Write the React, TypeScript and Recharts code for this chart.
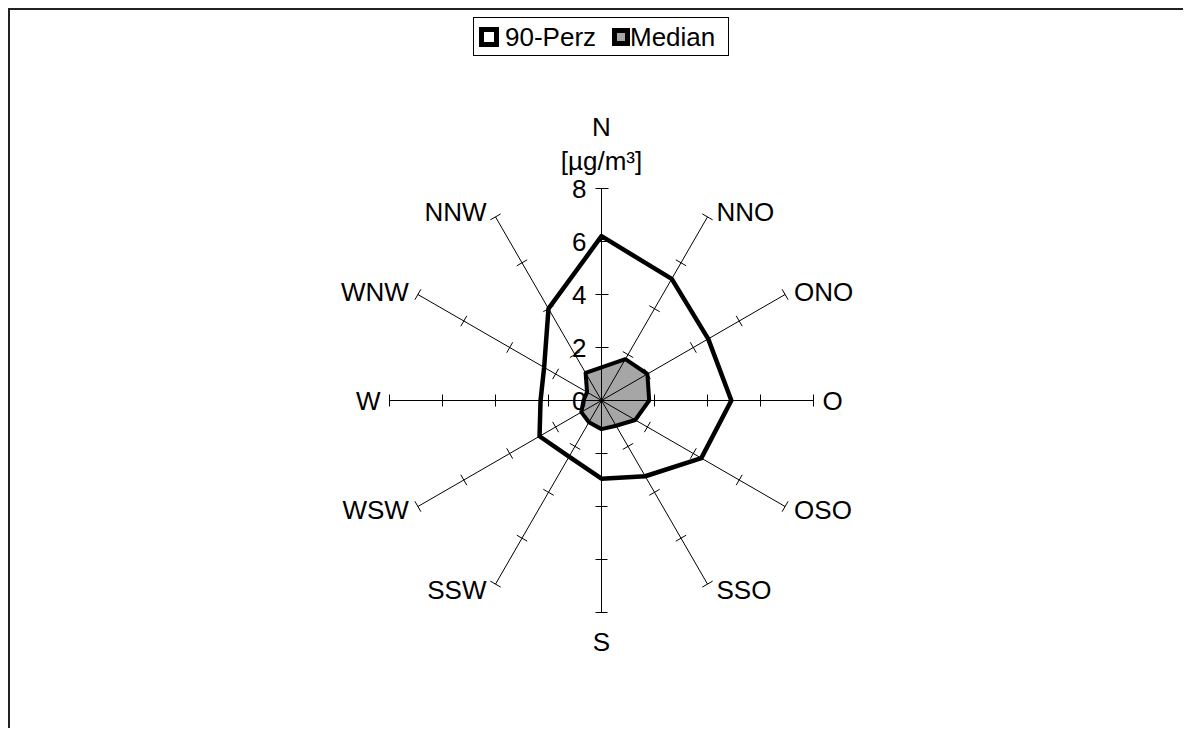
import React from 'react';
import { RadarChart, Radar, PolarAngleAxis, PolarRadiusAxis, PolarGrid, Legend } from 'recharts';

// wind sectors, clockwise from north
const directions = ['N', 'NNO', 'ONO', 'O', 'OSO', 'SSO', 'S', 'SSW', 'WSW', 'W', 'WNW', 'NNW'];
const perz90 = [6.2, 5.3, 4.65, 4.9, 4.35, 3.3, 2.95, 2.45, 2.7, 2.3, 2.5, 4.0];
const median = [1.25, 1.8, 2.0, 1.8, 1.47, 1.1, 1.08, 0.95, 0.88, 0.68, 0.63, 1.2];
const radiusTicks = [0, 2, 4, 6, 8];
const unitLabel = '[µg/m³]';

const data = directions.map((dir, i) => ({ dir, perz90: perz90[i], median: median[i] }));

const FONT = '"Liberation Sans", Arial, sans-serif';
const FONT_SIZE = 26;
const CX = 591.5;
const CY = 390.5;
const R = 212;
const DOMAIN_MAX = radiusTicks[radiusTicks.length - 1];

// value axis on the north spoke: cross ticks + labels
function NorthTick(props: any) {
  const { x, y, payload } = props;
  const v = payload.value;
  return (
    <g>
      {v > 0 && <line x1={x - 6} y1={y} x2={x + 7} y2={y} stroke="#000" strokeWidth={1} />}
      <text x={x - 15} y={y} dy="0.36em" textAnchor="end" fontFamily={FONT} fontSize={FONT_SIZE} fill="#000">
        {v}
      </text>
    </g>
  );
}

function DirectionTick(props: any) {
  const { x, y, payload, index } = props;
  const cx = props.cx ?? CX;
  const cy = props.cy ?? CY;
  const radius = props.radius ?? R;
  const dx = x - cx;
  const dy = y - cy;
  const len = Math.hypot(dx, dy) || 1;
  const ux = dx / len;
  const uy = dy / len;
  const ex = cx + ux * radius;
  const ey = cy + uy * radius;
  const common = { fontFamily: FONT, fontSize: FONT_SIZE, fill: '#000' };

  // cross ticks on the other spokes, same values as the north value axis
  const marks =
    index === 0
      ? null
      : radiusTicks
          .filter((v) => v > 0)
          .map((v) => {
            const r = (radius * v) / DOMAIN_MAX;
            const tx = cx + ux * r;
            const ty = cy + uy * r;
            return (
              <line key={v} x1={tx + 6 * uy} y1={ty - 6 * ux} x2={tx - 6 * uy} y2={ty + 6 * ux} stroke="#000" strokeWidth={1} />
            );
          });

  let label;
  if (Math.abs(ux) < 0.01) {
    label =
      uy < 0 ? (
        <g>
          <text x={ex} y={ey - 62} dy="0.36em" textAnchor="middle" {...common}>{payload.value}</text>
          <text x={ex} y={ey - 28} dy="0.36em" textAnchor="middle" {...common}>{unitLabel}</text>
        </g>
      ) : (
        <text x={ex} y={ey + 29} dy="0.36em" textAnchor="middle" {...common}>{payload.value}</text>
      );
  } else {
    const right = ux > 0;
    label = (
      <text x={right ? ex + 9 : ex - 9} y={ey + 6 * uy} dy="0.36em" textAnchor={right ? 'start' : 'end'} {...common}>
        {payload.value}
      </text>
    );
  }
  return (
    <g>
      {marks}
      {label}
    </g>
  );
}

function LegendBox(props: any) {
  const items = props.payload || [];
  const slots = [
    { mx: 6, my: 10, size: 20, inner: 10, tx: 32 },
    { mx: 139, my: 11, size: 18, inner: 8, tx: 157 },
  ];
  return (
    <svg width={256} height={39} style={{ display: 'block' }}>
      <rect x={0.5} y={0.5} width={255} height={38} fill="#fff" stroke="#000" />
      {items.map((entry: any, i: number) => {
        const s = slots[i] || slots[0];
        const off = (s.size - s.inner) / 2;
        return (
          <g key={entry.value}>
            <rect x={s.mx} y={s.my} width={s.size} height={s.size} fill="#000" />
            <rect x={s.mx + off} y={s.my + off} width={s.inner} height={s.inner} fill={entry.payload?.fill ?? '#fff'} />
            <text x={s.tx} y={29} fontFamily={FONT} fontSize={FONT_SIZE} fill="#000">{entry.value}</text>
          </g>
        );
      })}
    </svg>
  );
}

export default function App() {
  return (
    <div
      style={{
        width: 1181,
        height: 718,
        borderTop: '2px solid #222',
        borderLeft: '2px solid #222',
        position: 'relative',
        background: '#fff',
      }}
    >
      <RadarChart
        width={1173}
        height={716}
        data={data}
        cx={CX}
        cy={CY}
        outerRadius={R}
        startAngle={90}
        endAngle={-270}
        margin={{ top: 0, right: 0, bottom: 0, left: 0 }}
      >
        <Radar
          name="90-Perz"
          dataKey="perz90"
          stroke="#000"
          strokeWidth={4.5}
          strokeLinejoin="round"
          fill="#ffffff"
          fillOpacity={0}
          dot={false}
          isAnimationActive={false}
        />
        <Radar
          name="Median"
          dataKey="median"
          stroke="#000"
          strokeWidth={4}
          strokeLinejoin="round"
          fill="#a6a6a6"
          fillOpacity={1}
          dot={false}
          isAnimationActive={false}
        />
        <PolarGrid
          gridType="polygon"
          polarRadius={[]}
          stroke="#000"
          strokeWidth={1}
          strokeOpacity={1}
          {...({ zIndex: 600 } as any)}
        />
        <PolarAngleAxis dataKey="dir" axisLine={false} tickLine={false} tick={DirectionTick} />
        <PolarRadiusAxis
          angle={90}
          domain={[0, DOMAIN_MAX]}
          ticks={radiusTicks}
          tickCount={5}
          axisLine={{ stroke: '#000', strokeWidth: 1 }}
          tick={NorthTick}
        />
        <Legend
          content={LegendBox}
          wrapperStyle={{ top: 7, left: 463, bottom: 'auto', width: 256, height: 39 }}
        />
      </RadarChart>
    </div>
  );
}
